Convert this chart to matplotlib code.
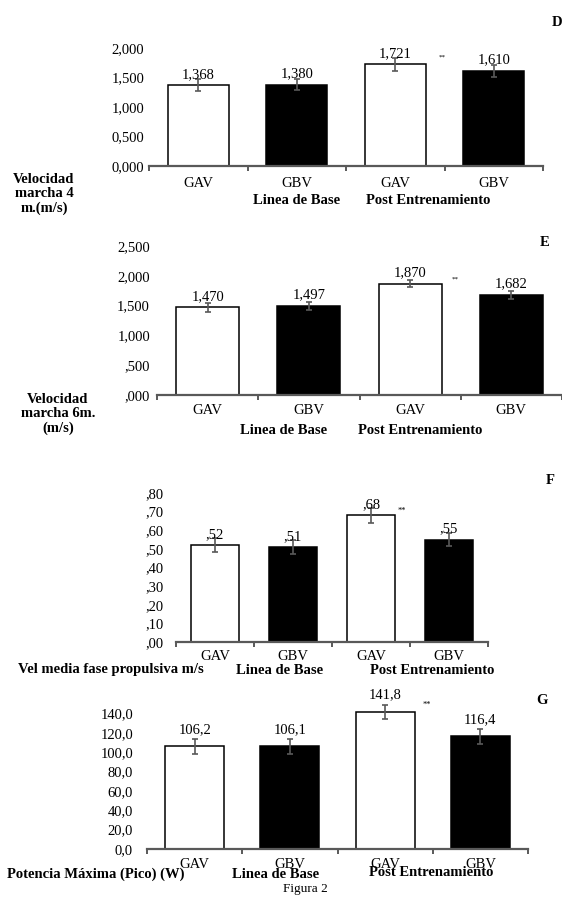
import numpy as np
import matplotlib
matplotlib.use("Agg")
import matplotlib.pyplot as plt

plt.rcParams['font.family'] = ['Liberation Serif', 'DejaVu Serif']

W, H = 562, 902

groups = ["GAV", "GBV", "GAV", "GBV"]
bar_colors = ["white", "black", "white", "black"]
phase_labels = ["Linea de Base", "Post Entrenamiento"]

# Panel D
d_values = [1.368, 1.380, 1.721, 1.610]
d_errors = [0.10, 0.10, 0.105, 0.10]
d_labels = ["1,368", "1,380", "1,721", "1,610"]
d_ticks = [0, 0.5, 1.0, 1.5, 2.0]
d_ticklabels = ["0,000", "0,500", "1,000", "1,500", "2,000"]

# Panel E
e_values = [1.470, 1.497, 1.870, 1.682]
e_errors = [0.075, 0.07, 0.065, 0.07]
e_labels = ["1,470", "1,497", "1,870", "1,682"]
e_ticks = [0, 0.5, 1.0, 1.5, 2.0, 2.5]
e_ticklabels = [",000", ",500", "1,000", "1,500", "2,000", "2,500"]

# Panel F
f_values = [0.52, 0.51, 0.68, 0.55]
f_errors = [0.037, 0.036, 0.042, 0.036]
f_labels = [",52", ",51", ",68", ",55"]
f_ticks = [0, 0.1, 0.2, 0.3, 0.4, 0.5, 0.6, 0.7, 0.8]
f_ticklabels = [",00", ",10", ",20", ",30", ",40", ",50", ",60", ",70", ",80"]

# Panel G
g_values = [106.2, 106.1, 141.8, 116.4]
g_errors = [7.6, 7.6, 7.3, 7.7]
g_labels = ["106,2", "106,1", "141,8", "116,4"]
g_ticks = [0, 20, 40, 60, 80, 100, 120, 140]
g_ticklabels = ["0,0", "20,0", "40,0", "60,0", "80,0", "100,0", "120,0", "140,0"]

fig = plt.figure(figsize=(W / 100, H / 100), dpi=100)
GRAY = "#595959"
FS = 10.5


def ftext(x, y, s, **kw):
    fig.text(x / W, 1 - y / H, s, **kw)


def panel(rect, values, errors, labels, ticks, ticklabels, ylim, ypad, cat_dy, val_dy):
    l, t, r, b = rect
    ax = fig.add_axes([l / W, 1 - b / H, (r - l) / W, (b - t) / H])
    ax.patch.set_alpha(0)
    x = np.arange(len(values)) + 0.5
    ax.bar(x, values, width=0.62, color=bar_colors, edgecolor="black",
           linewidth=1.1, zorder=2)
    ax.errorbar(x, values, yerr=errors, fmt="none", ecolor=GRAY,
                elinewidth=1.2, capsize=2.2, capthick=1.2, zorder=3)
    ax.set_xlim(0, len(values))
    ax.set_ylim(*ylim)
    for s in ["top", "right", "left"]:
        ax.spines[s].set_visible(False)
    ax.spines["bottom"].set_color(GRAY)
    ax.spines["bottom"].set_linewidth(1.6)
    ax.set_xticks(np.arange(len(values) + 1))
    ax.set_xticklabels([])
    ax.tick_params(axis="x", length=3.5, width=1.4, color=GRAY, direction="out")
    ax.set_yticks(ticks)
    ax.set_yticklabels(ticklabels)
    ax.tick_params(axis="y", length=0, pad=ypad, labelsize=FS)
    for xi, g in zip(x, groups):
        ax.annotate(g, xy=(xi, 0), xycoords=("data", "axes fraction"),
                    xytext=(0, -cat_dy), textcoords="offset pixels",
                    ha="center", va="center", fontsize=FS)
    for xi, v, lab in zip(x, values, labels):
        ax.annotate(lab, xy=(xi, v), xytext=(0, val_dy), textcoords="offset pixels",
                    ha="center", va="center", fontsize=FS)
    return ax


# D
panel((149, 48, 543, 166), d_values, d_errors, d_labels, d_ticks, d_ticklabels,
      (0, 2.0), 3.5, 17.5, 11)
ftext(557, 23, "D", fontsize=10.5, fontweight="bold", ha="center", va="center")
ftext(442, 57, "**", fontsize=5, ha="center", va="center")
ftext(44, 194, "Velocidad\nmarcha 4\nm.(m/s)", fontsize=FS, fontweight="bold",
      ha="center", va="center", linespacing=1.15)
ftext(297, 201, phase_labels[0], fontsize=FS, fontweight="bold", ha="center", va="center")
ftext(428, 201, phase_labels[1], fontsize=FS, fontweight="bold", ha="center", va="center")

# E
panel((157, 246, 562, 395), e_values, e_errors, e_labels, e_ticks, e_ticklabels,
      (0, 2.5), 5, 15.5, 11)
ftext(545, 243, "E", fontsize=10.5, fontweight="bold", ha="center", va="center")
ftext(455, 279, "**", fontsize=5, ha="center", va="center")
ftext(58, 414, "Velocidad\nmarcha 6m.\n(m/s)", fontsize=FS, fontweight="bold",
      ha="center", va="center", linespacing=1.15)
ftext(284, 430, phase_labels[0], fontsize=FS, fontweight="bold", ha="center", va="center")
ftext(420, 430, phase_labels[1], fontsize=FS, fontweight="bold", ha="center", va="center")

# F
panel((176, 493, 488, 642), f_values, f_errors, f_labels, f_ticks, f_ticklabels,
      (0, 0.8), 9, 15, 10.5)
ftext(550, 481, "F", fontsize=10.5, fontweight="bold", ha="center", va="center")
ftext(402, 511, "**", fontsize=6, ha="center", va="center")
ftext(18, 669, "Vel media fase propulsiva m/s", fontsize=FS, fontweight="bold",
      ha="left", va="center")
ftext(280, 670, phase_labels[0], fontsize=FS, fontweight="bold", ha="center", va="center")
ftext(432, 670, phase_labels[1], fontsize=FS, fontweight="bold", ha="center", va="center")

# G
panel((147, 704, 528, 849), g_values, g_errors, g_labels, g_ticks, g_ticklabels,
      (0, 150), 10, 16, 17)
ftext(542, 700, "G", fontsize=10.5, fontweight="bold", ha="center", va="center")
ftext(427, 705, "**", fontsize=6, ha="center", va="center")
ftext(7, 874, "Potencia Máxima (Pico) (W)", fontsize=FS, fontweight="bold",
      ha="left", va="center")
ftext(276, 874, phase_labels[0], fontsize=FS, fontweight="bold", ha="center", va="center")
ftext(431, 872, phase_labels[1], fontsize=FS, fontweight="bold", ha="center", va="center")

ftext(305, 889, "Figura 2", fontsize=9.5, ha="center", va="center")

fig.savefig("out.png", dpi=100)
